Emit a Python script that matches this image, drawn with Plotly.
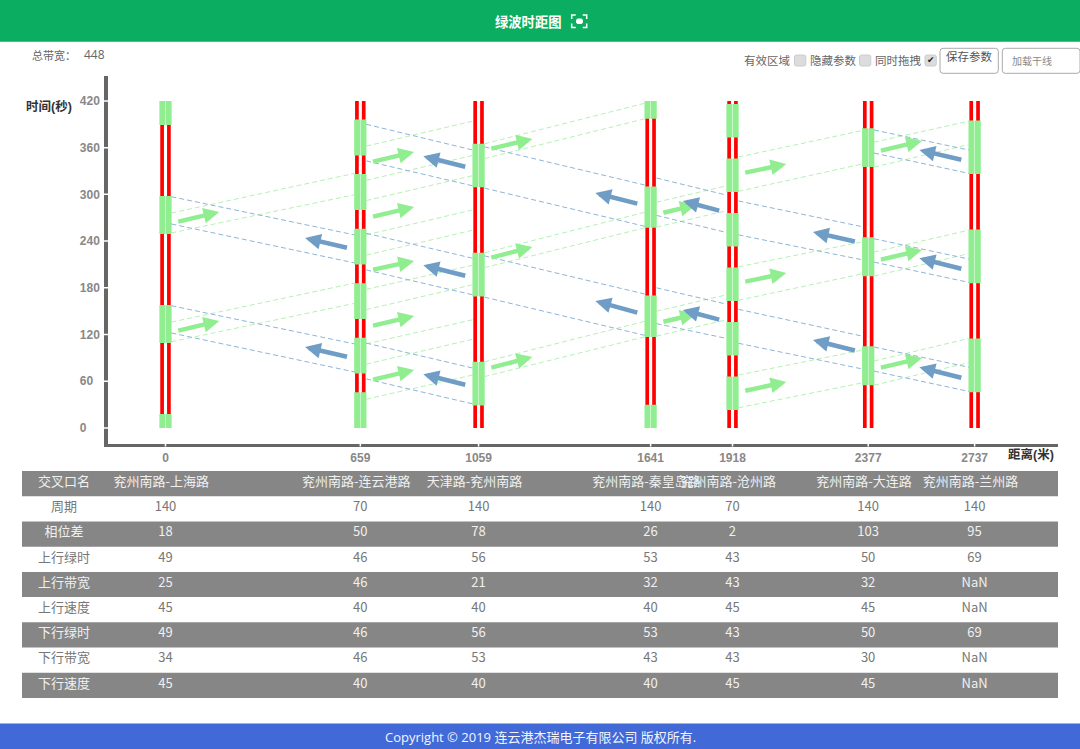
import plotly.graph_objects as go

# ---- data ----
DIST = [0, 659, 1059, 1641, 1918, 2377, 2737]
NAMES = ["兖州南路-上海路", "兖州南路-连云港路", "天津路-兖州南路", "兖州南路-秦皇岛路",
         "兖州南路-沧州路", "兖州南路-大连路", "兖州南路-兰州路"]
TIME_TICKS = [0, 60, 120, 180, 240, 300, 360, 420]
ROW_LABELS = ["交叉口名", "周期", "相位差", "上行绿时", "上行带宽", "上行速度", "下行绿时", "下行带宽", "下行速度"]
CYCLE = [140, 70, 140, 140, 70, 140, 140]
OFFSET = [18, 50, 78, 26, 2, 103, 95]
UP_GREEN = [49, 46, 56, 53, 43, 50, 69]
UP_BAND = [25, 46, 21, 32, 43, 32, "NaN"]
UP_SPEED = [45, 40, 40, 40, 45, 45, "NaN"]
DOWN_GREEN = [49, 46, 56, 53, 43, 50, 69]
DOWN_BAND = [34, 46, 53, 43, 43, 30, "NaN"]
DOWN_SPEED = [45, 40, 40, 40, 45, 45, "NaN"]

GREEN_START = [[0, 109, 249, 389], [0, 70, 140, 210, 280, 350], [29, 169, 309], [0, 117, 257, 397],
               [23, 93, 163, 233, 303, 373], [55, 195, 335], [46, 186, 326]]
GREEN_END = [[18, 158, 298, 420], [46, 116, 186, 256, 326, 396], [85, 225, 365], [30, 170, 310, 420],
             [66, 136, 206, 276, 346, 416], [105, 245, 385], [115, 255, 395]]

UP_T0 = [[110.8, 136, 250.5, 276], [37, 82, 108, 152, 178, 222, 248, 292, 318, 362],
         [66, 85, 206, 225, 346, 365], [118, 150, 258, 290], [26, 68, 164, 207, 304, 348],
         [55, 86, 195, 226, 335, 367]]
UP_T1 = [[160, 186, 299.5, 327], [68, 114, 139, 184, 209, 254, 280, 324, 350, 394],
         [117, 137, 257, 277, 397, 417], [139, 171, 279, 311], [58, 100, 198, 239, 339, 382],
         [84, 115, 224, 254, 364, 394]]
DOWN_T0 = [[157, 122, 297, 262], [390, 343, 250, 203, 109, 63], [361, 308, 221, 168],
           [321, 273, 180, 134], [291.5, 248, 152.4, 108.8], [382.7, 353, 243, 213, 104, 73]]
DOWN_T1 = [[108, 72, 248, 212], [357, 311, 218, 171, 77, 31], [312, 259, 172, 119],
           [299, 251, 159, 115], [258.5, 216, 118, 75.8], [357, 327, 217, 187, 78, 47]]

UP_ARROW_T0 = [[264.6, 124.6], [341.6, 271, 203, 131, 61.6], [358.3, 218.3, 77], [276, 136],
               [327.5, 187.5, 47.5], [355.8, 215.8, 77]]
UP_ARROW_T1 = [[277.4, 137.4], [354.5, 283.8, 214.5, 143.8, 74.5], [371.2, 232.5, 91.2], [286.4, 146.4],
               [339, 199, 59], [368.6, 228.6, 90]]
DOWN_ARROW_T0 = [[231, 91], [335, 195, 55], [287.7, 147.7], [278.7, 138.7], [239, 99], [344, 204, 64]]
DOWN_ARROW_T1 = [[244, 104], [349, 209, 69], [301.8, 163], [291.6, 151.6], [251.7, 113], [357, 218, 78]]

# ---- page geometry ----
W, H = 1080, 749
def fx(p): return p / W
def fy(p): return 1 - p / H

SANS = "Noto Sans CJK SC, Open Sans, sans-serif"
ARIAL = "Liberation Sans, Noto Sans CJK SC, sans-serif"
LIGHTGREEN = "#90ee90"
BLUE = "#6f9dc6"

fig = go.Figure()

# red signal strips
red_x, red_b, red_h = [], [], []
for d in DIST:
    for s in (-11.5, 11.5):
        red_x.append(d + s); red_b.append(0); red_h.append(420)
fig.add_trace(go.Bar(x=red_x, y=red_h, base=red_b, width=12.5, marker=dict(color="#ff0000", line_width=0),
                     hoverinfo="skip"))
# green windows
gx, gb, gh = [], [], []
for d, st, en in zip(DIST, GREEN_START, GREEN_END):
    for a, b in zip(st, en):
        for s in (-10.75, 10.75):
            gx.append(d + s); gb.append(a); gh.append(b - a)
fig.add_trace(go.Bar(x=gx, y=gh, base=gb, width=20, marker=dict(color=LIGHTGREEN, line_width=0), hoverinfo="skip"))

# dashed band edges
EDGE = 20
def band_trace(t0s, t1s, color):
    xs, ys = [], []
    for i, (t0, t1) in enumerate(zip(t0s, t1s)):
        for a, b in zip(t0, t1):
            xs += [DIST[i] + EDGE, DIST[i + 1] - EDGE, None]
            ys += [a, b, None]
    return go.Scatter(x=xs, y=ys, mode="lines", line=dict(color=color, width=1, dash="5px,3px"), hoverinfo="skip")
fig.add_trace(band_trace(UP_T0, UP_T1, "#b6f0b6"))
fig.add_trace(band_trace(DOWN_T0, DOWN_T1, "#8fb4d6"))

annotations = []
def arrow(x0, t0, x1, t1, color):
    annotations.append(dict(x=x1, y=t1, ax=x0, ay=t0, xref="x", yref="y", axref="x", ayref="y", text="",
                            showarrow=True, arrowhead=2, arrowsize=0.7, arrowwidth=4.5, arrowcolor=color, standoff=0))
for i in range(6):
    head = 153 if i == 3 else 182
    for a, b in zip(UP_ARROW_T0[i], UP_ARROW_T1[i]):
        arrow(DIST[i] + 38, a, DIST[i] + head, b, LIGHTGREEN)
for i in range(6):
    head = 168 if i == 3 else 187
    for a, b in zip(DOWN_ARROW_T0[i], DOWN_ARROW_T1[i]):
        arrow(DIST[i + 1] - 40, a, DIST[i + 1] - head, b, BLUE)

# ---- table, on its own axes with the same distance scale ----
LABEL_X = -343
HEAD_SHIFT = -14
ROW_NUDGE = -0.04
rows = [CYCLE, OFFSET, UP_GREEN, UP_BAND, UP_SPEED, DOWN_GREEN, DOWN_BAND, DOWN_SPEED]
def row_color(r): return "#f0f0f0" if r % 2 == 0 else "#777777"
fig.add_trace(go.Scatter(x=[LABEL_X] + [d + HEAD_SHIFT for d in DIST], y=[ROW_NUDGE] * 8, text=[ROW_LABELS[0]] + NAMES,
                         mode="text", textfont=dict(family=SANS, size=13, color="#f0f0f0"),
                         xaxis="x2", yaxis="y2", cliponaxis=False, hoverinfo="skip"))
for r, vals in enumerate(rows, start=1):
    fig.add_trace(go.Scatter(x=[LABEL_X] + DIST, y=[r + ROW_NUDGE] * 8, text=[ROW_LABELS[r]] + [str(v) for v in vals],
                             mode="text", textfont=dict(family=SANS, size=13, color=row_color(r)),
                             xaxis="x2", yaxis="y2", cliponaxis=False, hoverinfo="skip"))

shapes = []
def rect(x0, y0, x1, y1, fill, line=None, layer="below"):
    shapes.append(dict(type="rect", xref="paper", yref="paper", x0=fx(x0), x1=fx(x1), y0=fy(y0), y1=fy(y1),
                       fillcolor=fill, line=dict(width=1 if line else 0, color=line or fill), layer=layer))
def rrect(x0, y0, x1, y1, r, fill, line):
    a, b, c, d = fx(x0), fx(x1), fy(y0), fy(y1)
    rx, ry = r / W, r / H
    path = (f"M{a+rx},{c} L{b-rx},{c} Q{b},{c} {b},{c-ry} L{b},{d+ry} Q{b},{d} {b-rx},{d} "
            f"L{a+rx},{d} Q{a},{d} {a},{d+ry} L{a},{c-ry} Q{a},{c} {a+rx},{c} Z")
    shapes.append(dict(type="path", xref="paper", yref="paper", path=path, fillcolor=fill,
                       line=dict(color=line, width=1), layer="above"))

rect(0, 0, W, 41.7, "#0bae60")
rect(0, 723.5, W, H, "#4169d8")
for r in (0, 2, 4, 6, 8):
    shapes.append(dict(type="rect", xref="paper", yref="y2", x0=fx(22), x1=fx(1058), y0=r - 0.5, y1=r + 0.5,
                       fillcolor="#868686", line_width=0, layer="below"))

# notches where ticks cross the axis lines
for d in DIST:
    shapes.append(dict(type="line", xref="x", yref="paper", x0=d, x1=d, y0=fy(442.5), y1=fy(446.5),
                       line=dict(color="white", width=1.5), layer="above"))
for t in TIME_TICKS:
    shapes.append(dict(type="line", xref="paper", yref="y", y0=t, y1=t, x0=fx(104), x1=fx(108.5),
                       line=dict(color="white", width=1.5), layer="above"))

# full-screen icon
for p in [(571.7, 19, 571.7, 15, 575.7, 15), (582.7, 15, 586.7, 15, 586.7, 19),
          (586.7, 23.5, 586.7, 27.5, 582.7, 27.5), (575.7, 27.5, 571.7, 27.5, 571.7, 23.5)]:
    shapes.append(dict(type="path", xref="paper", yref="paper", layer="above",
                       path=f"M{fx(p[0])},{fy(p[1])} L{fx(p[2])},{fy(p[3])} L{fx(p[4])},{fy(p[5])}",
                       line=dict(color="white", width=1.5)))
rrect(576.5, 19, 582.5, 23.5, 1.5, "white", "white")

# form controls
for x in (794.5, 859.5, 925):
    rrect(x, 55, x + 11.3, 66, 2, "#dcdcdc", "#cccccc")
rrect(940, 48.3, 998.3, 73.3, 3, "white", "#aaaaaa")
rrect(1002.3, 48.3, 1080, 73.3, 3, "white", "#aaaaaa")

def text(x, y, s, size=12, color="#666666", anchor="center", family=SANS, weight=None):
    f = dict(size=size, color=color, family=family)
    if weight:
        f["weight"] = weight
    if anchor == "left":
        x -= 2
    annotations.append(dict(x=fx(x), y=fy(y), xref="paper", yref="paper", text=s, showarrow=False,
                            xanchor=anchor, yanchor="middle", font=f))

text(528.3, 21.5, "绿波时距图", 13.3, "white", weight=700)
text(540, 737, "Copyright © 2019 连云港杰瑞电子有限公司 版权所有.", 13, "#f4f6ff", family="Open Sans, Noto Sans CJK SC")
text(32, 55, "总带宽：", 11, "#666666", "left")
text(84, 55, "448", 12, "#666666", "left", family="Open Sans")
text(744, 60, "有效区域", 11.5, "#666666", "left")
text(810, 60, "隐藏参数", 11.5, "#666666", "left")
text(875, 60, "同时拖拽", 11.5, "#666666", "left")
text(930.7, 60.5, "✔", 9, "#222222", family="DejaVu Sans")
text(969, 55.5, "保存参数", 11.5, "#555555")
text(1011.5, 60.5, "加载干线", 10, "#888888", "left")
text(26, 106, "时间(秒)", 12.5, "#333333", "left", family=ARIAL, weight=700)
text(1008, 454, "距离(米)", 12.5, "#333333", "left", family=ARIAL, weight=700)

# nbsp padding keeps the tick labels flush left, as in the reference
NB = "\u00a0"
time_text = [str(t) + NB * (2 * (3 - len(str(t)))) for t in TIME_TICKS]

TICK = dict(family=ARIAL, size=12, color="#888888", weight=700)
fig.update_layout(
    width=W, height=H, margin=dict(l=0, r=0, t=0, b=0), paper_bgcolor="white", plot_bgcolor="rgba(0,0,0,0)",
    barmode="overlay", showlegend=False, shapes=shapes, annotations=annotations,
    xaxis=dict(domain=[fx(108), fx(1058)], range=[-194.5, 3019], tickmode="array", tickvals=DIST,
               ticktext=[str(d) for d in DIST], showgrid=False, zeroline=False, showline=True, linecolor="#666666",
               linewidth=3, ticks="outside", ticklen=1, tickcolor="rgba(0,0,0,0)", tickfont=TICK, anchor="y"),
    yaxis=dict(domain=[fy(443.5), fy(76)], range=[-19.9, 452], tickmode="array", tickvals=TIME_TICKS,
               ticktext=time_text, showgrid=False, zeroline=False, showline=True, linecolor="#666666",
               linewidth=3.5, ticks="", ticklabelstandoff=2, tickfont=TICK, anchor="x"),
    xaxis2=dict(domain=[0, 1], range=[-559.9, 3093.7], visible=False, anchor="y2"),
    yaxis2=dict(domain=[fy(698), fy(471)], range=[8.5, -0.5], visible=False, anchor="x2"),
)
fig.write_html("out.html", config=dict(displayModeBar=False),
               post_script="document.body.style.margin='0';document.documentElement.style.overflow='hidden';")
